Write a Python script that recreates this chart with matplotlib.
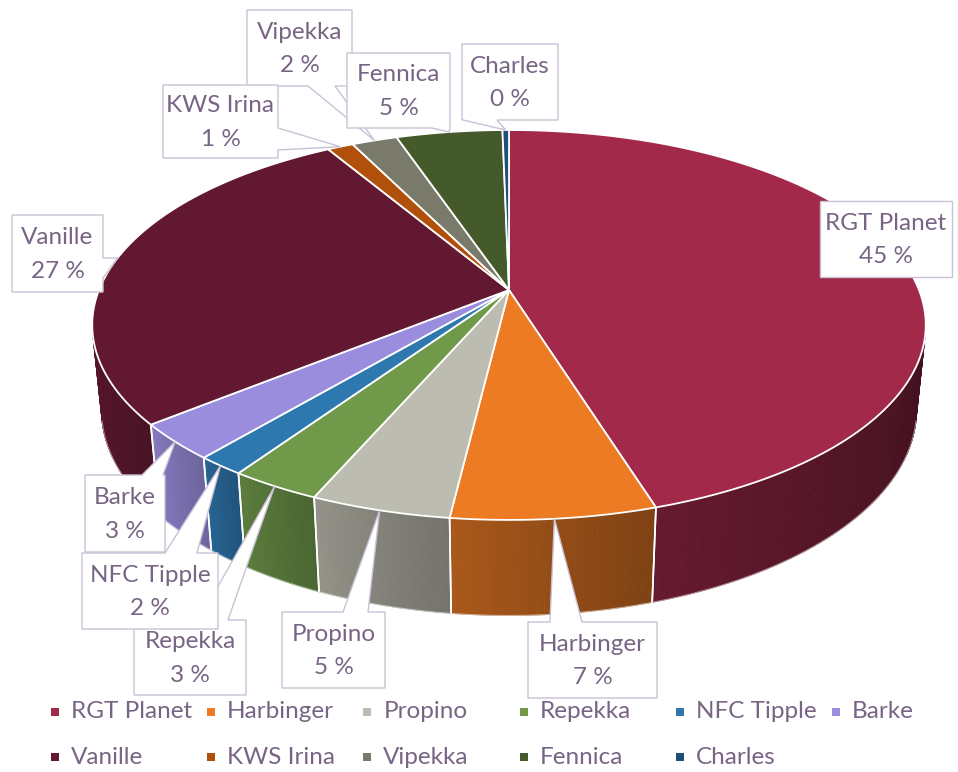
import numpy as np
import matplotlib
matplotlib.use("Agg")
import matplotlib.pyplot as plt
from matplotlib.patches import Polygon
from matplotlib.collections import PolyCollection
import matplotlib.colors as mcolors

# ---------------- data ----------------
categories = ["RGT Planet", "Harbinger", "Propino", "Repekka", "NFC Tipple", "Barke",
              "Vanille", "KWS Irina", "Vipekka", "Fennica", "Charles"]
values = [45.2, 6.7, 4.6, 3.0, 1.6, 3.0, 27.4, 1.2, 2.1, 4.9, 0.3]
colors = ["#A3294B", "#ED7B24", "#BDBCB0", "#70994A", "#2E78B0", "#9A8DDD",
          "#621830", "#B0500A", "#7A7A6A", "#455A2B", "#1F4E78"]

# label boxes (x0, y0, x1, y1), tail side and tail base (pixel layout)
label_boxes = {
    "RGT Planet": ((820, 201, 952, 277), None, None),
    "Harbinger": ((528, 622, 657, 698), "top", (550, 582)),
    "Propino": ((282, 612, 385, 688), "top", (343, 368)),
    "Repekka": ((134, 620, 246, 695), "top", (199, 228)),
    "NFC Tipple": ((82, 553, 218, 629), "top", (165, 197)),
    "Barke": ((85, 475, 165, 552), "top", (142, 163)),
    "Vanille": ((12, 215, 103, 292), "right", (258, 278)),
    "KWS Irina": ((163, 85, 278, 158), "right", (128, 150)),
    "Vipekka": ((247, 10, 352, 86), "bottom", (308, 335)),
    "Fennica": ((347, 53, 450, 128), "bottom", (432, 450)),
    "Charles": ((462, 44, 558, 120), "bottom", (463, 497)),
}
label_order = ["RGT Planet", "Harbinger", "Propino", "Repekka", "NFC Tipple", "Barke",
               "Vanille", "Vipekka", "KWS Irina", "Fennica", "Charles"]

TEXT_COLOR = "#786484"
BOX_EDGE = "#CBC1D5"
FONT = ["Lato", "DejaVu Sans"]
FS = 17.5

# ---------------- geometry ----------------
CX, CY, K = 509.0, 290.0, 410.0
ELEV = np.radians(27.4)
SE, CE = np.sin(ELEV), np.cos(ELEV)
D = 4.95
H = 0.235


def proj(theta_deg, r, z):
    t = np.radians(theta_deg)
    X = r * np.sin(t)
    Y = r * np.cos(t)
    sy = Y * SE + z * CE
    depth = Y * CE - z * SE
    s = D / (D + depth)
    return CX + K * X * s, CY - K * sy * s


fig = plt.figure(figsize=(9.58, 7.72), dpi=100)
ax = fig.add_axes([0, 0, 1, 1])
ax.set_xlim(0, 958)
ax.set_ylim(772, 0)
ax.axis("off")

total = sum(values)
fracs = [v / total for v in values]
starts = np.concatenate([[0], np.cumsum(fracs)[:-1]]) * 360
ends = np.cumsum(fracs) * 360

# visible side wall range (silhouette)
ccrit = np.degrees(np.arccos(-1.0 / (D * CE)))
vis0, vis1 = ccrit, 360 - ccrit


def shade(color, f):
    rgb = np.array(mcolors.to_rgb(color))
    return tuple(np.clip(rgb * f, 0, 1))


polys, fcs = [], []
boundary_angles = []
for a0, a1, c in zip(starts, ends, colors):
    lo, hi = max(a0, vis0), min(a1, vis1)
    if hi <= lo:
        continue
    n = max(2, int((hi - lo) / 0.5))
    th = np.linspace(lo, hi, n + 1)
    for i in range(n):
        ta, tb = th[i], th[i + 1]
        tm = 0.5 * (ta + tb)
        tpos = (hi - tm) / (hi - lo)  # 0 at left end of slice, 1 at right
        f = (0.64 - 0.2 * np.sin(np.radians(tm))) * (1.08 - 0.16 * tpos)
        p1 = proj(ta, 1, 0); p2 = proj(tb, 1, 0)
        p3 = proj(tb, 1, -H); p4 = proj(ta, 1, -H)
        polys.append([p1, p2, p3, p4])
        fcs.append(shade(c, f))
    for b in (a0, a1):
        if vis0 < b < vis1:
            boundary_angles.append(b)

pc = PolyCollection(polys, facecolors=fcs, edgecolors=fcs, linewidths=0.6, zorder=1)
ax.add_collection(pc)

for b in boundary_angles:
    xt, yt = proj(b, 1, 0)
    xb, yb = proj(b, 1, -H)
    ax.plot([xt, xb], [yt, yb], color="white", lw=1.2, zorder=2, solid_capstyle="butt")

# bottom rim faint line
thb = np.linspace(vis0, vis1, 200)
bx, by = proj(thb, 1, -H)
ax.plot(bx, by, color="white", lw=0.8, alpha=0.5, zorder=2)

# top faces
for a0, a1, c in zip(starts, ends, colors):
    n = max(2, int((a1 - a0) / 0.5))
    th = np.linspace(a0, a1, n + 1)
    xs, ys = proj(th, 1, 0)
    pts = [(CX, CY)] + list(zip(xs, ys))
    ax.add_patch(Polygon(pts, closed=True, facecolor=c, edgecolor="white",
                         lw=1.3, joinstyle="miter", zorder=3))

# ---------------- data labels (callouts) ----------------
mids = 0.5 * (starts + ends)
for z, name in enumerate(label_order):
    idx = categories.index(name)
    (x0, y0, x1, y1), side, base = label_boxes[name]
    tipx, tipy = proj(mids[idx], 1, 0)
    if side == "top":
        pts = [(x0, y0), (base[0], y0), (tipx, tipy), (base[1], y0), (x1, y0), (x1, y1), (x0, y1)]
    elif side == "bottom":
        pts = [(x0, y0), (x1, y0), (x1, y1), (base[1], y1), (tipx, tipy), (base[0], y1), (x0, y1)]
    elif side == "right":
        pts = [(x0, y0), (x1, y0), (x1, base[0]), (tipx, tipy), (x1, base[1]), (x1, y1), (x0, y1)]
    else:
        pts = [(x0, y0), (x1, y0), (x1, y1), (x0, y1)]
    ax.add_patch(Polygon(pts, closed=True, facecolor="white", edgecolor=BOX_EDGE,
                         lw=1.0, joinstyle="miter", zorder=10 + 2 * z))
    pct = int(round(values[idx] / total * 100))
    ax.text(0.5 * (x0 + x1), 0.5 * (y0 + y1) + 1, f"{name}\n{pct} %", ha="center", va="center",
            fontsize=FS, color=TEXT_COLOR, family=FONT, linespacing=1.72, zorder=11 + 2 * z)

# ---------------- legend ----------------
leg_x0, leg_dx = 55, 156.2
leg_y = [712, 757]
for i, (name, c) in enumerate(zip(categories, colors)):
    row, col = divmod(i, 6)
    mx = leg_x0 + col * leg_dx
    my = leg_y[row]
    ax.scatter([mx], [my], marker="s", s=34, color=c, edgecolors="none", zorder=40)
    ax.text(mx + 16, my, name, ha="left", va="center", fontsize=FS, color=TEXT_COLOR,
            family=FONT, zorder=40)

fig.savefig("out.png", dpi=100, facecolor="white")
